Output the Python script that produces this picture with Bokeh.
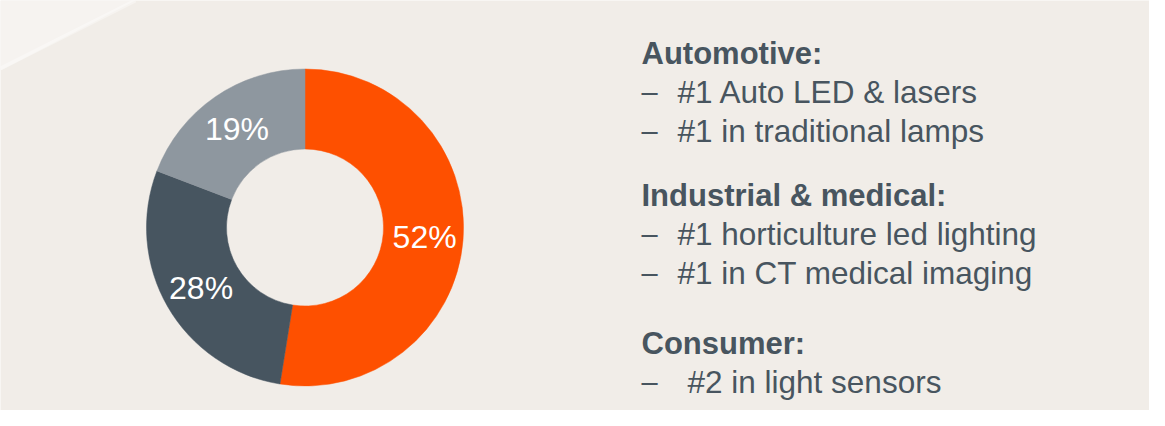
import math
from bokeh.plotting import figure
from bokeh.models import Range1d
from bokeh.core.properties import value
from bokeh.embed import file_html
from bokeh.resources import INLINE

# ---- data ----
segments = ["Automotive", "Industrial & medical", "Consumer"]
shares = [52, 28, 19]
labels = ["52%", "28%", "19%"]
colors = ["#FE5000", "#475560", "#8E979F"]

headings = ["Automotive:", "Industrial & medical:", "Consumer:"]
bullets = [
    ["#1 Auto LED & lasers", "#1 in traditional lamps"],
    ["#1 horticulture led lighting", "#1 in CT medical imaging"],
    ["#2 in light sensors"],
]
bullet_indent = [[0, 0], [0, 0], [10]]

W, H = 1149, 410
BG = "#F1EDE8"
TXT = "#48555F"
FONT = value("Liberation Sans")

p = figure(width=W, height=H, output_backend="svg", toolbar_location=None,
           x_range=Range1d(0, W), y_range=Range1d(426 - H, 426),
           min_border=0)
p.axis.visible = False
p.grid.visible = False
p.outline_line_color = None
p.background_fill_color = BG
p.border_fill_color = BG

# subtle light sheen at the top-left corner
p.patch(x=[0, 135, 0], y=[426, 426, 426 - 70], fill_color="white", fill_alpha=0.35, line_color=None)
p.line(x=[0, 135], y=[426 - 68, 426], line_color="white", line_width=4, line_alpha=0.35)

# donut
cx, cy = 304.5, 426 - 227
r_out, r_in = 158.5, 78.5
total = sum(shares)
cum = 0.0
starts, ends, lx, ly = [], [], [], []
for v in shares:
    f0 = cum / total
    cum += v
    f1 = cum / total
    starts.append(math.pi / 2 - f0 * 2 * math.pi)
    ends.append(math.pi / 2 - f1 * 2 * math.pi)
    mid = (f0 + f1) / 2
    rl = 120
    lx.append(cx + rl * math.sin(mid * 2 * math.pi))
    ly.append(cy + rl * math.cos(mid * 2 * math.pi))

p.annular_wedge(x=[cx] * 3, y=[cy] * 3, inner_radius=r_in, outer_radius=r_out,
                start_angle=starts, end_angle=ends, direction="clock",
                fill_color=colors, line_color=colors, line_width=0.5)
p.text(x=lx, y=ly, text=labels, text_align="center", text_baseline="middle",
       text_color="white", text_font=FONT, text_font_size="32px")

# right-hand text
head_y = [53, 195, 343]
line_gap = 38.5
hx, hy, ht = [], [], []
dx, dy = [], []
bx, by, bt = [], [], []
for h, y0, bl, ind in zip(headings, head_y, bullets, bullet_indent):
    hx.append(641); hy.append(426 - y0); ht.append(h)
    for i, b in enumerate(bl):
        yy = 426 - (y0 + line_gap * (i + 1))
        dx.append(641); dy.append(yy)
        bx.append(677 + ind[i]); by.append(yy); bt.append(b)

p.text(x=hx, y=hy, text=ht, text_align="left", text_baseline="alphabetic",
       text_color=TXT, text_font=FONT, text_font_size="31px",
       text_font_style="bold")
p.text(x=dx, y=dy, text=["–"] * len(dx), text_align="left", text_baseline="alphabetic",
       text_color=TXT, text_font=FONT, text_font_size="29px")
p.text(x=bx, y=by, text=bt, text_align="left", text_baseline="alphabetic",
       text_color=TXT, text_font=FONT, text_font_size="31.5px")

open("out.html", "w").write(file_html(p, INLINE))
